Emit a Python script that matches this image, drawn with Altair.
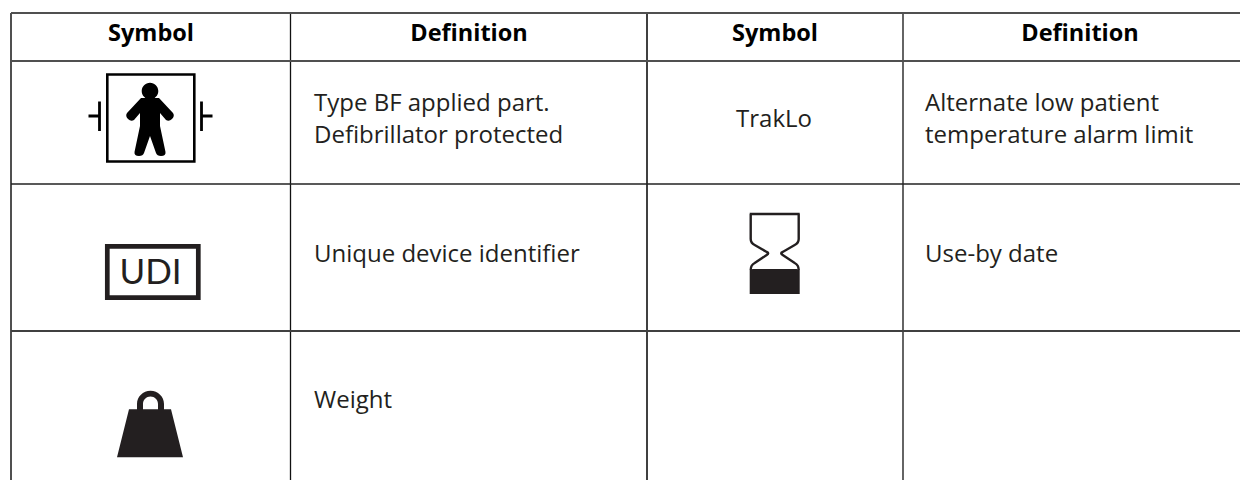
import altair as alt
import pandas as pd

# table structure (page pixels)
col_edges = [11, 290.5, 647, 903]
col_colors = ["#505050", "#111111", "#404040", "#111111"]
col_widths = [2, 1.3, 2, 1.3]
row_edges = [13, 61, 184, 331]
row_colors = ["#505050", "#505050", "#222222", "#404040"]
row_widths = [2, 2, 1.6, 2]
table_right = 1240
table_bottom = 480
header_labels = ["Symbol", "Definition", "Symbol", "Definition"]
header_x = [151, 469, 775, 1080]
body_text = ["Type BF applied part.", "Defibrillator protected", "Unique device identifier", "Weight",
             "Alternate low patient", "temperature alarm limit", "Use-by date"]
body_x = [314, 314, 314, 314, 925, 925, 925]
body_y = [111, 142.5, 261.5, 408, 111, 142.5, 261.5]
trak_label = ["TrakLo"]
trak_x = [774]
trak_y = [126.7]
FONT = "Open Sans"
INK = "#231f20"

X = alt.Scale(domain=[8, 1240], range=[0, 1232], nice=False, zero=False)
Y = alt.Scale(domain=[8, 480], range=[0, 472], nice=False, zero=False)
xe = alt.X("x:Q", scale=X, axis=None)
ye = alt.Y("y:Q", scale=Y, axis=None)
NOC = alt.Color("c:N", scale=None, legend=None)
NOW = alt.StrokeWidth("w:Q", scale=None, legend=None)

vlines = pd.DataFrame({"x": col_edges, "y": row_edges[0], "y2": table_bottom, "c": col_colors, "w": col_widths})
hlines = pd.DataFrame({"y": row_edges, "x": col_edges[0], "x2": table_right, "c": row_colors, "w": row_widths})

grid = [
    alt.Chart(vlines).mark_rule().encode(x=xe, y=ye, y2="y2:Q", color=NOC, strokeWidth=NOW),
    alt.Chart(hlines).mark_rule().encode(y=ye, x=xe, x2="x2:Q", color=NOC, strokeWidth=NOW),
]

head = alt.Chart(pd.DataFrame({"t": header_labels, "x": header_x, "y": [40.7] * 4})).mark_text(
    font=FONT, fontSize=23.5, fontWeight="bold", color="#000000", align="center", baseline="alphabetic"
).encode(x=xe, y=ye, text="t:N")
body = alt.Chart(pd.DataFrame({"t": body_text, "x": body_x, "y": body_y})).mark_text(
    font=FONT, fontSize=24, color=INK, align="left", baseline="alphabetic"
).encode(x=xe, y=ye, text="t:N")
trak = alt.Chart(pd.DataFrame({"t": trak_label, "x": trak_x, "y": trak_y})).mark_text(
    font=FONT, fontSize=24, color=INK, align="center", baseline="alphabetic"
).encode(x=xe, y=ye, text="t:N")
udi = alt.Chart(pd.DataFrame({"t": ["UDI"], "x": [150.5], "y": [284]})).mark_text(
    font="Lato", fontSize=35, color=INK, align="center", baseline="alphabetic"
).encode(x=xe, y=ye, text="t:N")

def glyph(path, x, y, filled=True, sw=0, color=INK):
    kw = dict(fill=color, stroke=color, strokeWidth=sw, opacity=1) if filled else dict(
        filled=False, fillOpacity=0, stroke=color, strokeWidth=sw, opacity=1)
    return alt.Chart(pd.DataFrame({"x": [x], "y": [y]})).mark_point(shape=path, size=4, **kw).encode(x=xe, y=ye)

person_box = "M-43.5,-43.5H43.5V43.5H-43.5Z"
person = ("M-8.3,-27A8.3,8.3 0 1 1 8.3,-27A8.3,8.3 0 1 1 -8.3,-27Z "
          "M-9,-20L9,-20L23,-5Q25,-2 22,1Q19,4 16,2L10,-5L10,8L15.5,34Q16,38 11,38Q7,38 6,35L0,18L-6,35Q-7,38 -11,38Q-16,38 -15.5,34L-10,8L-10,-5L-16,2Q-19,4 -22,1Q-25,-2 -23,-5Z")
plates = "M-51,-14.5V15M-51,0H-62M51,-14.5V15M51,0H62"
udi_box = "M-45.5,-25.7H45.5V25.7H-45.5Z"
weight = ("M-33,25.3L-21,-22.7L-13,-22.7L-13,-28A13.5,13.3 0 0 1 14,-28L14,-22.7L21,-22.7L33,25.3Z "
          "M-7,-22.7L8,-22.7L8,-28A7.5,7.5 0 0 0 -7,-28Z")
glass = ("M-24,-39V-14Q-24,-10 -20,-8L-8,-1Q-5,0 -8,2L-20,10Q-24,12 -24,17 "
         "M24,-39V-14Q24,-10 20,-8L8,-1Q5,0 8,2L20,10Q24,12 24,17 M-25,-39H25")
glass_fill = "M-25,17L-22,16L22,16L25,17V41H-25Z"

marks = grid + [head, body, trak, udi,
    glyph(person_box, 150.8, 118, False, 2.6, "#000000"),
    glyph(person, 150, 118, True, 0, "#000000"),
    glyph(plates, 150.5, 116, False, 2.8, "#000000"),
    glyph(udi_box, 152.8, 272, False, 4.7),
    glyph(weight, 150, 432),
    glyph(glass, 774.7, 253, False, 2.4),
    glyph(glass_fill, 774.7, 253),
]
chart = alt.layer(*marks).properties(width=1232, height=472, padding=0, background="white",
                                     autosize=alt.AutoSizeParams(type="none")).configure_view(stroke=None)
chart.save("out.html", embed_options={"renderer": "svg", "actions": False})
